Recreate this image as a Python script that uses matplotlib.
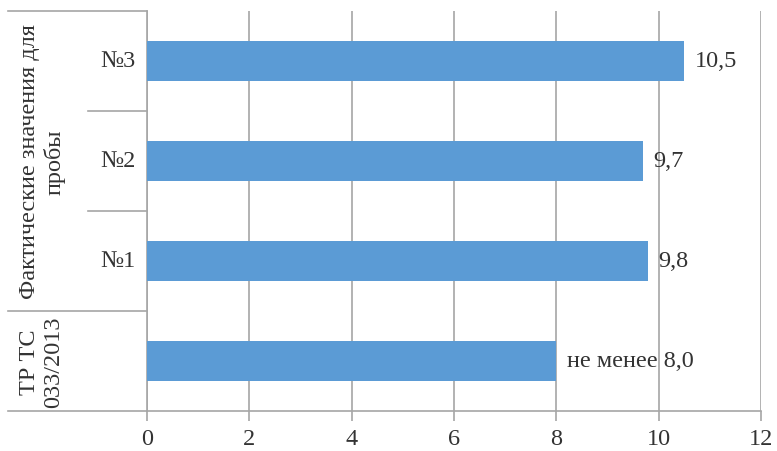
import matplotlib
matplotlib.use("Agg")
import matplotlib.pyplot as plt
import numpy as np

plt.rcParams['font.family'] = ['Liberation Serif', 'DejaVu Serif']

# samples from bottom to top
inner_labels = ['', '№1', '№2', '№3']
values = [8.0, 9.8, 9.7, 10.5]
value_labels = ['не менее 8,0', '9,8', '9,7', '10,5']
group_labels = ['ТР ТС\n033/2013', 'Фактические значения для\nпробы']
group_spans = [(0, 0), (1, 3)]
xticks = [0, 2, 4, 6, 8, 10, 12]

bar_color = '#5b9bd5'
line_color = '#a6a6a6'
text_color = '#333333'
fs = 17.5

fig = plt.figure(figsize=(7.77, 4.52), dpi=100)
W, H = 777, 452
ax = fig.add_axes([147 / W, 40 / H, 614 / W, 400 / H])

y = np.arange(len(values))
ax.barh(y, values, height=0.4, color=bar_color, zorder=3)
ax.set_xlim(0, 12)
ax.set_ylim(-0.5, len(values) - 0.5)

ax.set_xticks(xticks)
ax.set_xticklabels([str(t) for t in xticks], fontsize=fs, color=text_color)
ax.set_yticks([])
ax.grid(axis='x', color=line_color, linewidth=1.2, zorder=0)
ax.tick_params(axis='x', length=7, width=1.2, color=line_color, pad=5)

for s in ['top', 'right']:
    ax.spines[s].set_visible(False)
for s in ['left', 'bottom']:
    ax.spines[s].set_color(line_color)
    ax.spines[s].set_linewidth(1.2)

for yi, v, lab in zip(y, values, value_labels):
    ax.text(v + 0.2, yi, lab, va='center', ha='left', fontsize=fs, color=text_color)

# category table on the left
tr = ax.get_yaxis_transform()
x_outer = -139 / 614
x_inner = -59 / 614
for yi, lab in zip(y, inner_labels):
    ax.text(x_inner / 2, yi, lab, transform=tr, ha='center', va='center',
            fontsize=fs, color=text_color)

for b in [-0.5, 0.5, len(values) - 0.5]:
    ax.plot([x_outer, 0], [b, b], transform=tr, color=line_color,
            linewidth=1.2, clip_on=False)
for b in [1.5, 2.5]:
    ax.plot([x_inner, 0], [b, b], transform=tr, color=line_color,
            linewidth=1.2, clip_on=False)

for lab, (a, b) in zip(group_labels, group_spans):
    ax.text(-105 / 614, (a + b) / 2, lab, transform=tr, rotation=90,
            ha='center', va='center', fontsize=fs, color=text_color,
            linespacing=1.2, multialignment='center')

fig.savefig('out.png', dpi=100)
